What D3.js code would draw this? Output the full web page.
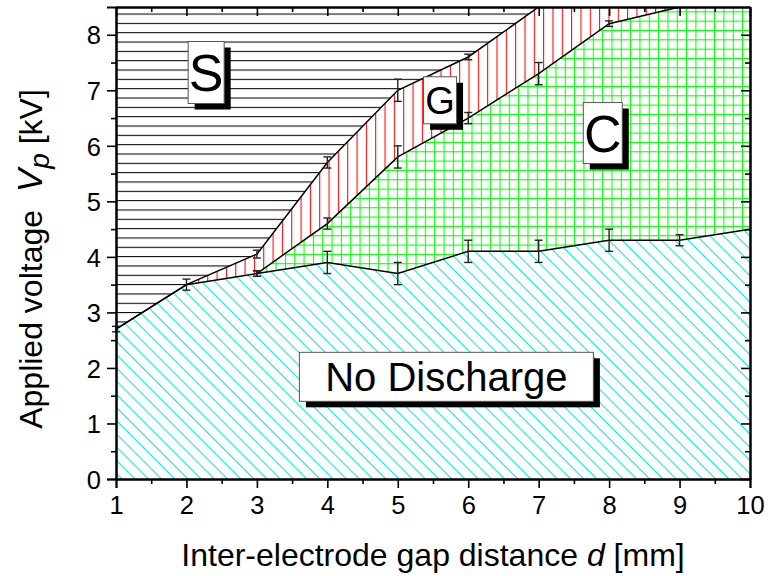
<!DOCTYPE html>
<html><head><meta charset="utf-8">
<script src="https://cdn.jsdelivr.net/npm/d3@7/dist/d3.min.js"></script>
<style>body{margin:0;background:#fff}svg{display:block}</style>
</head><body><svg id="chart" width="768" height="576"></svg>
<script>
// ---- data ----
const xTicks = [1,2,3,4,5,6,7,8,9,10];
const yTicks = [0,1,2,3,4,5,6,7,8];
const xMinor = [1.5,2.5,3.5,4.5,5.5,6.5,7.5,8.5,9.5];
const yMinor = [0.5,1.5,2.5,3.5,4.5,5.5,6.5,7.5];
// boundary: No discharge / discharge
const ndX   = [1,2,3,4,5,6,7,8,9,10];
const ndV   = [2.7,3.5,3.7,3.9,3.7,4.1,4.1,4.3,4.3,4.5];
const ndErr = [0.05,0.1,0.05,0.2,0.2,0.2,0.2,0.2,0.1,0];
// boundary: S / G
const sgX   = [1,2,3,4,5,6,7];
const sgV   = [2.7,3.5,4.05,5.7,7.0,7.6,8.5];
const sgErr = [0,0,0.07,0.1,0.2,0.05,0];
// boundary: G / C
const gcX   = [3,4,5,6,7,8,9];
const gcV   = [3.7,4.6,5.8,6.5,7.3,8.2,8.5];
const gcErr = [0.05,0.1,0.2,0.1,0.2,0.05,0];
const regionLabels = ["S","G","C","No Discharge"];
const xTitle = "Inter-electrode gap distance ";
const yTitle = "Applied voltage ";

// ---- layout ----
const svg = d3.select("#chart");
const L = 116, R = 750, T = 7, B = 479;
const xMax = 10, yMax = 8.5;
const x = d3.scaleLinear().domain([1, xMax]).range([L, R]);
const y = d3.scaleLinear().domain([0, yMax]).range([B, T]);
const FONT = "'Liberation Sans', Arial, Helvetica, sans-serif";
const P = 9.33;

const defs = svg.append("defs");
defs.append("clipPath").attr("id","plotclip").append("rect")
  .attr("x",L).attr("y",T).attr("width",R-L).attr("height",B-T);

// S: horizontal black lines
let p = defs.append("pattern").attr("id","patS").attr("patternUnits","userSpaceOnUse")
  .attr("width",P).attr("height",P).attr("y",4.2);
p.append("rect").attr("width",P).attr("height",P).attr("fill","#fff");
p.append("line").attr("x1",0).attr("x2",P).attr("y1",0.5).attr("y2",0.5).attr("stroke","#000").attr("stroke-width",1.1);
// G: vertical red lines
p = defs.append("pattern").attr("id","patG").attr("patternUnits","userSpaceOnUse")
  .attr("width",P).attr("height",P).attr("x",2);
p.append("rect").attr("width",P).attr("height",P).attr("fill","#fff");
p.append("line").attr("y1",0).attr("y2",P).attr("x1",0.5).attr("x2",0.5).attr("stroke","#ff0000").attr("stroke-width",1.1);
// C: green grid
p = defs.append("pattern").attr("id","patC").attr("patternUnits","userSpaceOnUse")
  .attr("width",P).attr("height",P).attr("x",5).attr("y",2);
p.append("rect").attr("width",P).attr("height",P).attr("fill","#fff");
p.append("line").attr("y1",0).attr("y2",P).attr("x1",0.5).attr("x2",0.5).attr("stroke","#00ff00").attr("stroke-width",1.1);
p.append("line").attr("x1",0).attr("x2",P).attr("y1",0.5).attr("y2",0.5).attr("stroke","#00ff00").attr("stroke-width",1.1);
// No discharge: cyan diagonal
p = defs.append("pattern").attr("id","patN").attr("patternUnits","userSpaceOnUse")
  .attr("width",P).attr("height",P).attr("patternTransform","rotate(45)");
p.append("rect").attr("width",P).attr("height",P).attr("fill","#fff");
p.append("line").attr("x1",0).attr("x2",P).attr("y1",0.5).attr("y2",0.5).attr("stroke","#00e8f0").attr("stroke-width",1.1);

const plot = svg.append("g").attr("clip-path","url(#plotclip)");
const area = d3.area().x(d=>x(d[0])).y0(y(0)).y1(d=>y(d[1]));
const line = d3.line().x(d=>x(d[0])).y(d=>y(d[1]));

const ndPts = ndX.map((v,i)=>[v,ndV[i]]);
const sgPts = sgX.map((v,i)=>[v,sgV[i]]);
const gcPts = gcX.map((v,i)=>[v,gcV[i]]);

// S region (whole plot)
plot.append("rect").attr("x",L).attr("y",T).attr("width",R-L).attr("height",B-T).attr("fill","url(#patS)");
// G region below S/G boundary
plot.append("path").datum(sgPts.concat([[xMax,yMax]])).attr("d",area).attr("fill","url(#patG)");
// C region below G/C boundary
const cTop = ndPts.filter(d=>d[0]<gcX[0]).concat(gcPts).concat([[xMax,yMax]]);
plot.append("path").datum(cTop).attr("d",area).attr("fill","url(#patC)");
// No discharge region
plot.append("path").datum(ndPts).attr("d",area).attr("fill","url(#patN)");

// boundary lines
[ndPts, sgPts, gcPts].forEach(pts=>{
  plot.append("path").datum(pts).attr("d",line).attr("fill","none")
    .attr("stroke","#000").attr("stroke-width",1.5);
});

// error bars
const ebG = svg.append("g").attr("stroke","#222").attr("stroke-width",1.4).attr("fill","none");
function errBars(xs, vs, es){
  xs.forEach((xv,i)=>{
    const e = es[i]; if(!e) return;
    const cx = x(xv), y1 = y(vs[i]+e), y2 = y(vs[i]-e);
    ebG.append("line").attr("x1",cx).attr("x2",cx).attr("y1",y1).attr("y2",y2);
    ebG.append("line").attr("x1",cx-4).attr("x2",cx+4).attr("y1",y1).attr("y2",y1);
    ebG.append("line").attr("x1",cx-4).attr("x2",cx+4).attr("y1",y2).attr("y2",y2);
  });
}
errBars(ndX, ndV, ndErr);
errBars(sgX, sgV, sgErr);
errBars(gcX, gcV, gcErr);

// axes
function styleAxis(g, labels){
  g.select(".domain").attr("stroke","#000").attr("stroke-width",2);
  g.selectAll(".tick line").attr("stroke","#000").attr("stroke-width",1.6);
  g.selectAll(".tick text").attr("font-family",FONT).attr("font-size",25.5).attr("fill","#000");
  if(!labels) g.selectAll(".tick text").remove();
}
let g;
g = svg.append("g").attr("transform",`translate(0,${B})`)
  .call(d3.axisBottom(x).tickValues(xTicks).tickSize(9).tickPadding(8).tickFormat(d3.format("d")));
styleAxis(g,true);
g = svg.append("g").attr("transform",`translate(0,${B})`)
  .call(d3.axisBottom(x).tickValues(xMinor).tickSize(5).tickSizeOuter(0));
styleAxis(g,false);
g = svg.append("g").attr("transform",`translate(${L},0)`)
  .call(d3.axisLeft(y).tickValues(yTicks).tickSize(9).tickPadding(6).tickFormat(d3.format("d")));
styleAxis(g,true);
g.selectAll(".tick text").attr("dy","0.36em");
g = svg.append("g").attr("transform",`translate(${L},0)`)
  .call(d3.axisLeft(y).tickValues(yMinor).tickSize(5).tickSizeOuter(0));
styleAxis(g,false);
// top (ticks inward)
g = svg.append("g").attr("transform",`translate(0,${T})`)
  .call(d3.axisBottom(x).tickValues(xTicks).tickSize(9).tickSizeOuter(0));
styleAxis(g,false);
g = svg.append("g").attr("transform",`translate(0,${T})`)
  .call(d3.axisBottom(x).tickValues(xMinor).tickSize(5).tickSizeOuter(0));
styleAxis(g,false);
// right (ticks inward)
g = svg.append("g").attr("transform",`translate(${R},0)`)
  .call(d3.axisLeft(y).tickValues(yTicks).tickSize(9).tickSizeOuter(0));
styleAxis(g,false);
g = svg.append("g").attr("transform",`translate(${R},0)`)
  .call(d3.axisLeft(y).tickValues(yMinor).tickSize(5).tickSizeOuter(0));
styleAxis(g,false);

// axis titles
const xt = svg.append("text").attr("x",(L+R)/2).attr("y",566).attr("text-anchor","middle")
  .attr("font-family",FONT).attr("font-size",32).attr("fill","#000");
xt.append("tspan").text(xTitle);
xt.append("tspan").attr("font-style","italic").text("d");
xt.append("tspan").text(" [mm]");

const yt = svg.append("text").attr("transform",`translate(42,259) rotate(-90)`).attr("text-anchor","middle")
  .attr("font-family",FONT).attr("font-size",32).attr("fill","#000")
  .attr("xml:space","preserve").style("white-space","pre");
yt.append("tspan").text(yTitle + " ");
yt.append("tspan").attr("font-style","italic").attr("font-size",35).text("V");
yt.append("tspan").attr("font-style","italic").attr("font-size",28).attr("dy",7).text("p");
yt.append("tspan").attr("dy",-7).text(" [kV]");

// region labels with shadowed boxes
const boxes = [
  {t:regionLabels[0], cx:2.28, cy:7.32, w:36, h:62, fs:52},
  {t:regionLabels[1], cx:5.60, cy:6.82, w:33, h:47, fs:38},
  {t:regionLabels[2], cx:7.91, cy:6.23, w:39, h:61, fs:52},
  {t:regionLabels[3], cx:5.69, cy:1.84, w:294, h:49, fs:40}
];
boxes.forEach(b=>{
  const px = x(b.cx), py = y(b.cy);
  const gb = svg.append("g");
  gb.append("rect").attr("x",px-b.w/2+6.5).attr("y",py-b.h/2+6).attr("width",b.w).attr("height",b.h).attr("fill","#000");
  gb.append("rect").attr("x",px-b.w/2).attr("y",py-b.h/2).attr("width",b.w).attr("height",b.h)
    .attr("fill","#fff").attr("stroke","#555").attr("stroke-width",1);
  gb.append("text").attr("x",px).attr("y",py+b.fs*0.36).attr("text-anchor","middle")
    .attr("font-family",FONT).attr("font-size",b.fs).attr("fill","#000").text(b.t);
});
</script>
</body></html>
